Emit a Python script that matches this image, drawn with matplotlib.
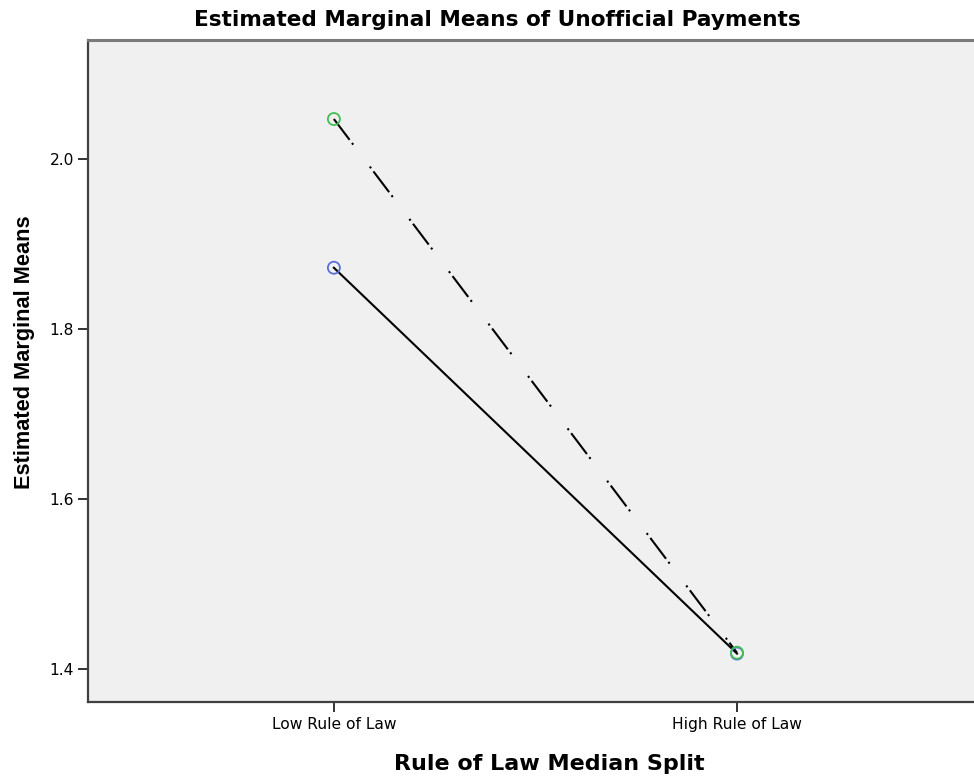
import matplotlib
matplotlib.use("Agg")
import matplotlib.pyplot as plt

# donnees
categories = ["Low Rule of Law", "High Rule of Law"]
serie_a = [1.872, 1.418]   # ligne pleine, marqueurs bleus
serie_b = [2.047, 1.419]   # ligne tiret-point-point, marqueurs verts
y_ticks = [1.4, 1.6, 1.8, 2.0]

plt.rcParams['font.family'] = ['DejaVu Sans']

fig = plt.figure(figsize=(9.74, 7.81), dpi=100)
ax = fig.add_axes([88 / 974, 79 / 781, 886 / 974, 662 / 781])
ax.set_facecolor("#f0f0f0")

x = list(range(len(categories)))
ax.plot(x, serie_a, color="black", lw=1.5, zorder=2)
ax.plot(x, serie_b, color="black", lw=1.5, zorder=2,
        linestyle=(0, (12.5, 1.9, 1, 13.2, 1, 1.9)))
ax.scatter(x, serie_a, s=75, facecolors="none", edgecolors="#5a6ed6", linewidths=1.3, zorder=3)
ax.scatter(x, serie_b, s=75, facecolors="none", edgecolors="#42be55", linewidths=1.3, zorder=3)

ax.set_xlim(-0.61, 1.588)
ax.set_ylim(1.361, 2.14)
ax.set_xticks(x)
ax.set_xticklabels(categories)
ax.set_yticks(y_ticks)
ax.set_yticklabels([f"{v:.1f}" for v in y_ticks])
ax.tick_params(axis="both", direction="out", length=7.5, width=1.4, color="#333333",
               labelsize=11.2, pad=2.5)
ax.tick_params(axis="x", pad=3.5)

for side in ["left", "bottom"]:
    ax.spines[side].set_color("#404040")
    ax.spines[side].set_linewidth(1.6)
ax.spines["top"].set_color("#7a7a7a")
ax.spines["top"].set_linewidth(2.2)
ax.spines["right"].set_visible(False)

# titres places comme sur l'original
fig.text(497 / 974, 1 - 20 / 781, "Estimated Marginal Means of Unofficial Payments",
         fontsize=15.6, fontweight="bold", ha="center", va="center")
fig.text(549 / 974, 1 - 764 / 781, "Rule of Law Median Split",
         fontsize=16, fontweight="bold", ha="center", va="center")
fig.text(25 / 974, 1 - 352 / 781, "Estimated Marginal Means", family="Liberation Sans",
         fontsize=15.7, fontweight="bold", ha="center", va="center", rotation=90)

fig.savefig("out.png", dpi=100)
